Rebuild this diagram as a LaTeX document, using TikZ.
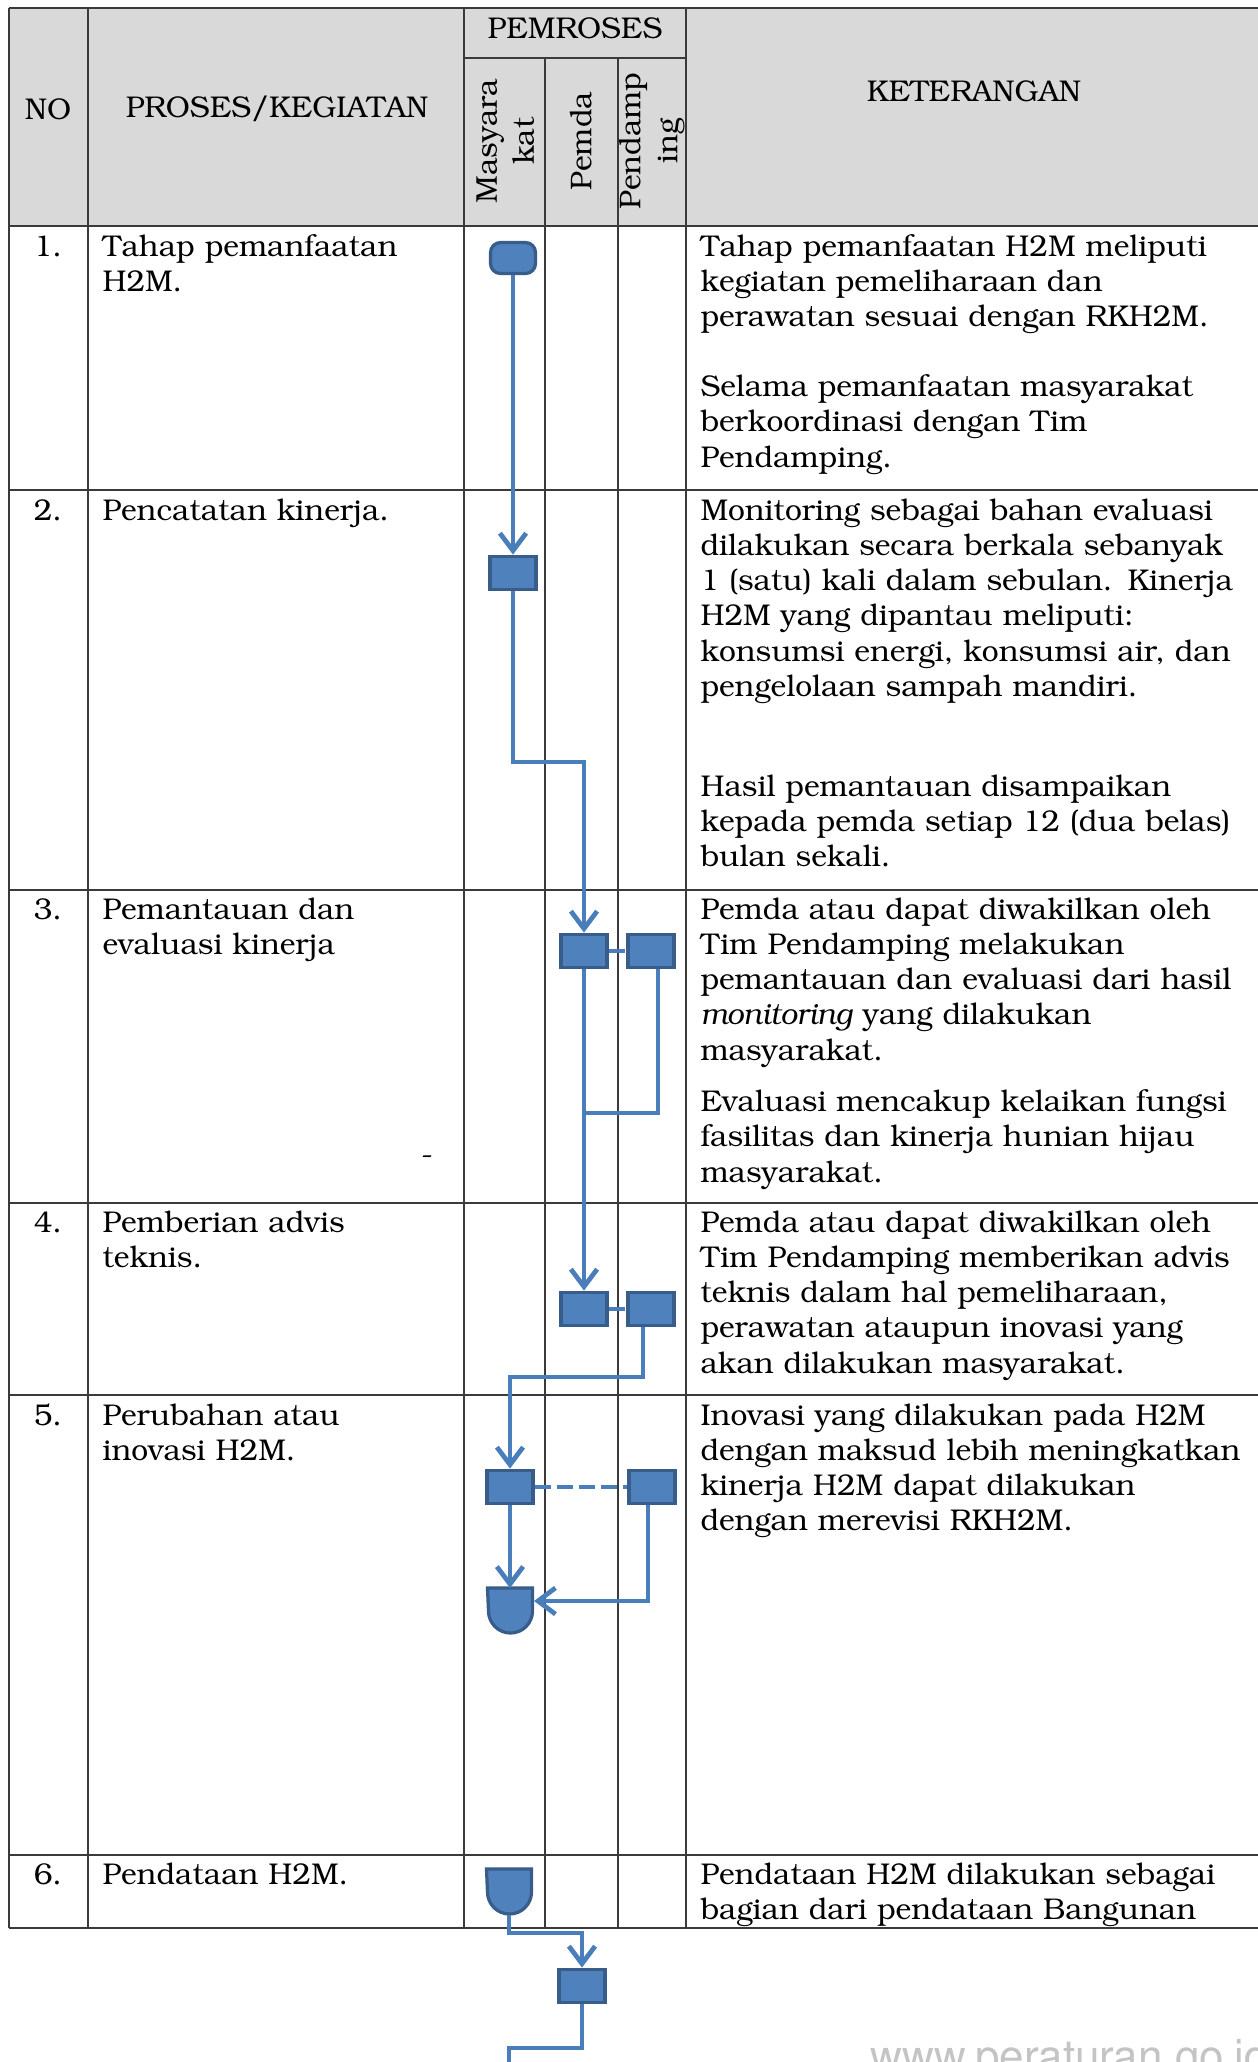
\documentclass[tikz,border=0pt]{standalone}
\usepackage[T1]{fontenc}
\usepackage{bookman}
\usetikzlibrary{arrows.meta,calc}
\definecolor{hdr}{HTML}{D9D9D9}
\definecolor{grid}{HTML}{3A3A3A}
\definecolor{bfill}{HTML}{4F81BD}
\definecolor{bline}{HTML}{385D8A}
\definecolor{conn}{HTML}{4A7EBB}
\definecolor{wmgray}{HTML}{C4C4C4}
\begin{document}
\begin{tikzpicture}[x=0.4pt,y=-0.4pt,
  gridline/.style={draw=grid,line width=0.7pt},
  boxnode/.style={draw=bline,fill=bfill,line width=1.3pt,minimum width=18.4pt,minimum height=13.4pt,inner sep=0pt},
  termnode/.style={boxnode,rounded corners=4pt,minimum width=18pt,minimum height=12.4pt},
  shieldbase/.style={inner sep=0pt,minimum width=17.6pt,minimum height=18pt},
  shieldpath/.style={draw=bline,fill=bfill,line width=1.3pt},
  flow/.style={draw=conn,line width=1.9pt},
  flowarr/.style={flow,-{Straight Barb[length=7pt,width=10.5pt]}},
  flowdash/.style={flow,dash pattern=on 6.4pt off 2.4pt},
  hdrtext/.style={font=\fontsize{12}{14}\selectfont,inner sep=0pt},
  rottext/.style={font=\fontsize{12}{14.8}\selectfont,inner sep=0pt,rotate=90,align=center},
  numtext/.style={font=\fontsize{12}{14.12}\selectfont,inner sep=0pt,anchor=base},
  bodytext/.style={font=\fontsize{12}{14.12}\selectfont,inner sep=0pt,anchor=base west,align=left},
  wmtext/.style={font=\fontfamily{phv}\fontsize{17.6}{20}\selectfont,text=wmgray,inner sep=0pt,anchor=base west},
]
\useasboundingbox (0,0) rectangle (1258,2062);
\begin{scope}
\clip (0,0) rectangle (1258,2062);
\fill[white] (0,0) rectangle (1258,2062);
% header background
\fill[hdr] (9,8) rectangle (1258,226);
% grid
\draw[gridline] (9,8) -- (1258,8);
\draw[gridline] (464,58) -- (686,58);
\foreach \yy in {226,490,890,1203,1395,1855,1928} {\draw[gridline] (9,\yy) -- (1258,\yy);}
\foreach \xx in {9,88,464,686} {\draw[gridline] (\xx,8) -- (\xx,1928);}
\foreach \xx in {545,618} {\draw[gridline] (\xx,58) -- (\xx,1928);}

% header texts
\node[hdrtext] (hPem) at (575,28) {PEMROSES};
\node[hdrtext] (hNo) at (48,109) {NO};
\node[hdrtext] (hPro) at (277,109) {PROSES/KEGIATAN};
\node[hdrtext] (hKet) at (974,91) {KETERANGAN};
\node[rottext] (hMas) at (505,141) {Masyara\\kat};
\node[rottext] (hPemda) at (581,141) {Pemda};
\node[rottext] (hPend) at (652,141) {Pendamp\\ing};

% numbers
\node[numtext] (n1) at (48,256) {1.};
\node[numtext] (n2) at (48,520) {2.};
\node[numtext] (n3) at (48,919) {3.};
\node[numtext] (n4) at (48,1232) {4.};
\node[numtext] (n5) at (48,1425) {5.};
\node[numtext] (n6) at (48,1884) {6.};

% process column
\node[bodytext,text width=140pt] (p1) at (102,256) {Tahap pemanfaatan\\H2M.};
\node[bodytext,text width=140pt] (p2) at (102,520) {Pencatatan kinerja.};
\node[bodytext,text width=140pt] (p3) at (102,919) {Pemantauan dan\\evaluasi kinerja};
\node[numtext] (p3dash) at (427,1164) {-};
\node[bodytext,text width=140pt] (p4) at (102,1232) {Pemberian advis\\teknis.};
\node[bodytext,text width=140pt] (p5) at (102,1425) {Perubahan atau\\inovasi H2M.};
\node[bodytext,text width=140pt] (p6) at (102,1884) {Pendataan H2M.};

% keterangan column
\node[bodytext,text width=224pt] (k1) at (700,256) {Tahap pemanfaatan H2M meliputi\\kegiatan pemeliharaan dan\\perawatan sesuai dengan RKH2M.\\[13.8pt]Selama pemanfaatan masyarakat\\berkoordinasi dengan Tim\\Pendamping.};
\node[bodytext,text width=224pt] (k2) at (700,520) {Monitoring sebagai bahan evaluasi\\dilakukan secara berkala sebanyak\\1 (satu) kali dalam sebulan. Kinerja\\H2M yang dipantau meliputi:\\konsumsi energi, konsumsi air, dan\\pengelolaan sampah mandiri.\\[25.7pt]Hasil pemantauan disampaikan\\kepada pemda setiap 12 (dua belas)\\bulan sekali.};
\node[bodytext,text width=224pt] (k3) at (700,919) {Pemda atau dapat diwakilkan oleh\\Tim Pendamping melakukan\\pemantauan dan evaluasi dari hasil\\\textit{monitoring} yang dilakukan\\masyarakat.\\[6.4pt]Evaluasi mencakup kelaikan fungsi\\fasilitas dan kinerja hunian hijau\\masyarakat.};
\node[bodytext,text width=224pt] (k4) at (700,1232) {Pemda atau dapat diwakilkan oleh\\Tim Pendamping memberikan advis\\teknis dalam hal pemeliharaan,\\perawatan ataupun inovasi yang\\akan dilakukan masyarakat.};
\node[bodytext,text width=224pt] (k5) at (700,1425) {Inovasi yang dilakukan pada H2M\\dengan maksud lebih meningkatkan\\kinerja H2M dapat dilakukan\\dengan merevisi RKH2M.};
\node[bodytext,text width=224pt] (k6) at (700,1884) {Pendataan H2M dilakukan sebagai\\bagian dari pendataan Bangunan};

% flow shapes
\node[termnode] (T1) at (513,258) {};
\node[boxnode] (B2) at (513,573) {};
\node[boxnode] (B3a) at (584,951) {};
\node[boxnode] (B3b) at (651,951) {};
\node[boxnode] (B4a) at (584,1309) {};
\node[boxnode] (B4b) at (651,1309) {};
\node[boxnode] (B5a) at (510,1487) {};
\node[boxnode] (B5b) at (652,1487) {};
\node[shieldbase] (S5) at (510,1611) {};
\draw[shieldpath] (S5.north west) -- (S5.north east) -- ($(S5.north east)+(0,23)$) arc[start angle=0,end angle=-180,radius=8.8pt] -- cycle;
\node[shieldbase] (S6) at (509,1892) {};
\draw[shieldpath] (S6.north west) -- (S6.north east) -- ($(S6.north east)+(0,23)$) arc[start angle=0,end angle=-180,radius=8.8pt] -- cycle;
\node[boxnode] (B7) at (582,1986) {};

% helper coordinates
\coordinate (c2) at (545,762);
\coordinate (x3b) at ($(B3b.south)+(7,0)$);
\coordinate (j3) at (584,1113);
\coordinate (x4b) at ($(B4b.south)+(-8,0)$);
\coordinate (c4) at (545,1377);
\coordinate (x5b) at ($(B5b.south)+(-4,0)$);
\coordinate (S5in) at ($(S5.north east)+(1.5,13)$);
\coordinate (c6) at (545,1933);
\coordinate (c7) at (509,2048);
\coordinate (endpt) at (509,2080);

% connectors
\draw[flowarr] (T1.south) -- (B2.north);
\draw[flowarr] (B2.south) |- (c2) -| (B3a.north);
\draw[flowdash] (B3a.east) -- (B3b.west);
\draw[flowarr] (B3a.south) -- (B4a.north);
\draw[flow] (x3b) |- (j3);
\draw[flowdash] (B4a.east) -- (B4b.west);
\draw[flowarr] (x4b) |- (c4) -| (B5a.north);
\draw[flowdash] (B5a.east) -- (B5b.west);
\draw[flowarr] (B5a.south) -- (S5.north);
\draw[flowarr] (x5b) |- (S5in);
\draw[flowarr] (S6.south) |- (c6) -| (B7.north);
\draw[flow] (B7.south) |- (c7) -- (endpt);

% watermark
\node[wmtext] (wm) at (870,2071) {www.peraturan.go.id};
\end{scope}
\end{tikzpicture}
\end{document}
